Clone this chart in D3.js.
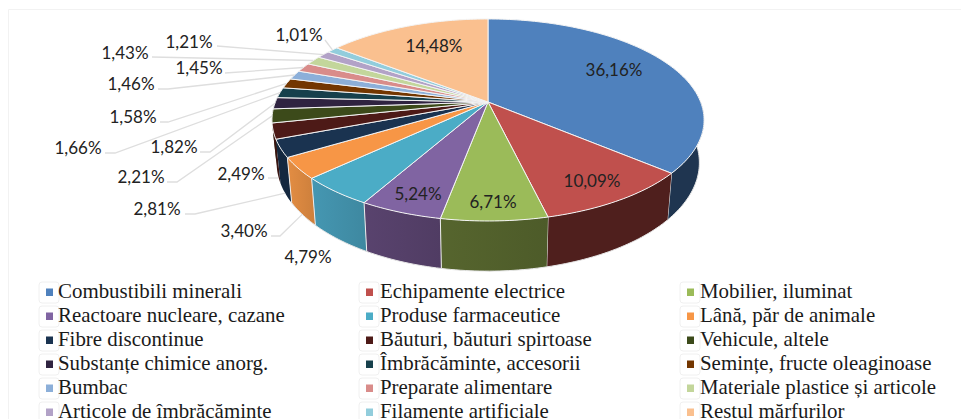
<!DOCTYPE html>
<html><head><meta charset="utf-8">
<script src="https://cdn.jsdelivr.net/npm/d3@7/dist/d3.min.js"></script>
<style>html,body{margin:0;background:#fff}svg{display:block}</style></head>
<body><svg id="c" width="961" height="419"></svg>
<script>
const categories=["Combustibili minerali","Echipamente electrice","Mobilier, iluminat","Reactoare nucleare, cazane","Produse farmaceutice","Lână, păr de animale","Fibre discontinue","Băuturi, băuturi spirtoase","Vehicule, altele","Substanțe chimice anorg.","Îmbrăcăminte, accesorii","Semințe, fructe oleaginoase","Bumbac","Preparate alimentare","Materiale plastice și articole","Articole de îmbrăcăminte","Filamente artificiale","Restul mărfurilor"];
const values=[36.16,10.09,6.71,5.24,4.79,3.40,2.81,2.49,2.21,1.82,1.66,1.58,1.46,1.45,1.43,1.21,1.01,14.48];
const topColors=["#4f81bd","#c0504d","#9bbb59","#8064a2","#4bacc6","#f79646","#1a3350","#4d1a17","#3c4a1a","#2f2340","#17404c","#733600","#8cafd9","#d98c8a","#c3d69b","#b2a2c7","#92cddc","#fac08f"];
const sideColors=["#1f3550","#4f1f1d","#4d5b29","#503c63","#3e88a0","#cc7f3c","#14283f","#3a1512","#2e3814","#241b31","#12323c","#5a2a00","#6f8aab","#ab6f6d","#9aa97a","#8c809d","#73a2ae","#c5986f"];
// label placement: text centre x,y
const labelPos=[[614,70],[592,181],[493,202],[418,194],[308,257],[244,231],[157,209],[241,174],[141,177],[174,147],[78,148],[133,117],[131,84],[199,68],[125,53],[189,42],[299,35],[434,46]];
// leader routing: start point, optional elbow, which plane the leader lands on
const leaders=[null,null,null,null,null,
 {s:[271,236],e:[280,236],to:"bot"},{s:[185,214],e:[195,214],to:"bot"},{s:[268,178],e:[278,178],to:null},
 {s:[167,182],e:[177,182],to:"top"},{s:[200,152],e:[210,152],to:"top"},{s:[105,153],e:[115,153],to:"top"},
 {s:[160,122],e:[168,122],to:"top"},{s:[158,89],e:[168,89],to:"top"},{s:[225,73],to:"top"},{s:[152,57],to:"top"},{s:[217,46],to:"top"},{s:[325,40],to:"top"},null];
const swatchCols=[46,366,687], textCols=[58,380,700], legendRows=[292,316,340,364,388,412];

const svg=d3.select("#c");
svg.append("path").attr("d","M8.5,419V9.5H961").attr("fill","none").attr("stroke","#f2f2f2");

const pie=d3.pie().value(d=>d).sort(null)(values);
const cx=488,b=0.178;
const planeTop={R:212.6,y0:102,a:97.8}, planeBot={R:208,y0:143.4,a:105};
function proj(t,p){const u=Math.sin(t),v=-Math.cos(t),w=1-b*v;return [cx+p.R*u/w,p.y0+p.a*v/w];}
function arcAngles(a0,a1){const n=Math.max(2,Math.ceil((a1-a0)/0.02));return d3.range(n+1).map(i=>a0+(a1-a0)*i/n);}
function arcPts(a0,a1,p){return arcAngles(a0,a1).map(t=>proj(t,p));}
const line=d3.line();
const visA=1.45, visB=2*Math.PI-1.45;

const defs=svg.append("defs");
sideColors.forEach((c,i)=>{
  const gr=defs.append("linearGradient").attr("id","sg"+i);
  gr.append("stop").attr("offset","0").attr("stop-color",i>=2&&i<=5?d3.color(c).brighter(0.3):c);
  gr.append("stop").attr("offset","1").attr("stop-color",c);
});

// the wall of each slice is the sweep of the rim segment, so the tangent silhouette is filled too
function wall(a0,a1){const as=arcAngles(a0,a1);let d="";
  for(let k=0;k<as.length-1;k++){d+=line([proj(as[k],planeTop),proj(as[k+1],planeTop),proj(as[k+1],planeBot),proj(as[k],planeBot)])+"Z";}
  return d;}
const g=svg.append("g");
const sides=pie.map((s,i)=>({s,i,a0:Math.max(s.startAngle,visA),a1:Math.min(s.endAngle,visB)})).filter(d=>d.a1>d.a0);
sides.sort((x,y)=>Math.abs(Math.PI-(y.a0+y.a1)/2)-Math.abs(Math.PI-(x.a0+x.a1)/2));
sides.forEach(d=>{
  g.append("path").attr("d",wall(d.a0,d.a1)).attr("fill",`url(#sg${d.i})`);
  if(d.i<=5){
    g.append("path").attr("d",line(arcPts(d.a0,d.a1,planeBot))).attr("fill","none").attr("stroke","#e6e6e6").attr("stroke-width",1);
    g.append("path").attr("d",line([proj(d.s.endAngle,planeTop),proj(d.s.endAngle,planeBot)])).attr("fill","none").attr("stroke","#ececec").attr("stroke-width",1);
  }
});
g.selectAll("path.top").data(pie).join("path").attr("class","top")
 .attr("d",(s)=>line([[cx,planeTop.y0]].concat(arcPts(s.startAngle,s.endAngle,planeTop)))+"Z")
 .attr("fill",(s,i)=>topColors[i]).attr("stroke","#f4f4f4").attr("stroke-width",1).attr("stroke-linejoin","round");

const fmt=v=>v.toFixed(2).replace(".",",")+"%";
pie.forEach((s,i)=>{const l=leaders[i]; if(!l) return;
  const pts=[l.s]; if(l.e) pts.push(l.e);
  if(l.to) pts.push(proj((s.startAngle+s.endAngle)/2,l.to==="bot"?planeBot:planeTop));
  svg.append("path").attr("d",line(pts)).attr("fill","none").attr("stroke","#dedede").attr("stroke-width",1.3);
});
svg.append("g").selectAll("text").data(values).join("text")
 .attr("x",(d,i)=>labelPos[i][0]).attr("y",(d,i)=>labelPos[i][1]).attr("dy","0.36em")
 .attr("text-anchor","middle").attr("font-family","Lato,'Open Sans',sans-serif").attr("font-size",17).attr("fill","#222")
 .text(fmt);
const lg=svg.append("g").selectAll("g").data(categories).join("g")
 .attr("transform",(d,i)=>`translate(0,${legendRows[Math.floor(i/3)]})`);
lg.append("rect").attr("x",(d,i)=>swatchCols[i%3]-7).attr("y",-10).attr("width",20).attr("height",21).attr("rx",3).attr("fill","none").attr("stroke","#f0f0f0");
lg.append("rect").attr("x",(d,i)=>swatchCols[i%3]).attr("y",-3.5).attr("width",7).attr("height",7.5).attr("fill",(d,i)=>topColors[i]);
lg.append("text").attr("x",(d,i)=>textCols[i%3]).attr("dy","0.3em").attr("font-family","'Liberation Serif',serif").attr("font-size",20.9).attr("fill","#1a1a1a").text(d=>d);
</script></body></html>
